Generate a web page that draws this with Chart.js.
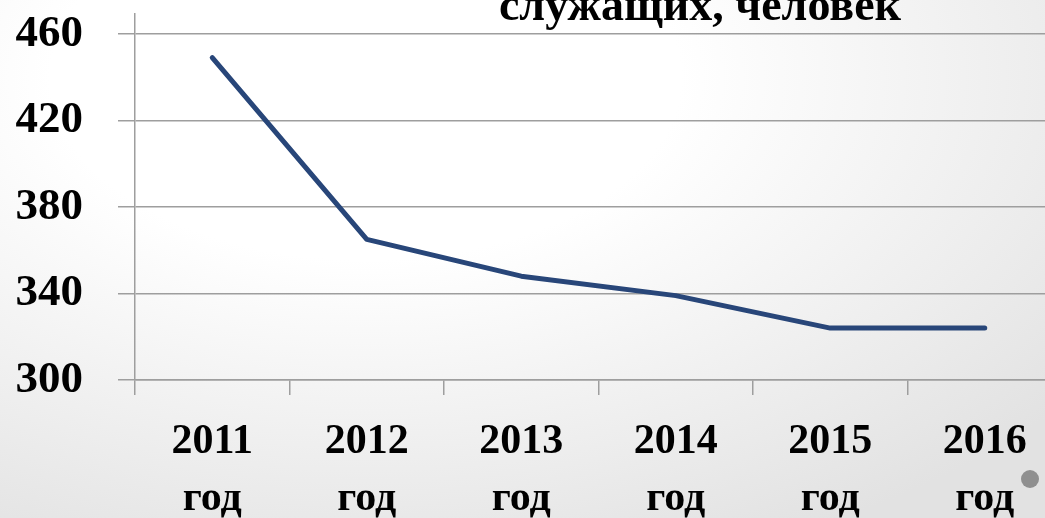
<!DOCTYPE html>
<html>
<head>
<meta charset="utf-8">
<script src="https://cdn.jsdelivr.net/npm/chart.js@4"></script>
<style>
  html, body { margin: 0; padding: 0; overflow: hidden; }
  body {
    width: 1045px; height: 518px; position: relative;
    background: radial-gradient(ellipse 900px 520px at 35% 15%, #ffffff 35%, #e2e2e2 100%);
  }
  #wrap { position: absolute; left: 0; top: -30px; width: 1070px; height: 548px; }
  #dot { position: absolute; left: 1021px; top: 470px; width: 18px; height: 18px; border-radius: 50%; background: #8f8f8f; }
</style>
</head>
<body>
<div id="wrap"><canvas id="chart"></canvas></div>
<div id="dot"></div>
<script>
const years = ["2011", "2012", "2013", "2014", "2015", "2016"];
const employees = [449, 365, 348, 339, 324, 324];
const yTicks = [300, 340, 380, 420, 460];
const titleLine = "служащих, человек";

const serif = "'Liberation Serif', 'DejaVu Serif', serif";
const gridGray = "#9e9e9e";

// title sits partly above the visible area, so draw it by hand
const titlePlugin = {
  id: "cutTitle",
  afterDraw(chart) {
    const ctx = chart.ctx;
    ctx.save();
    ctx.font = "bold 46px " + serif;
    ctx.fillStyle = "#000";
    ctx.textAlign = "center";
    ctx.textBaseline = "alphabetic";
    ctx.fillText(titleLine, 700, 50);
    ctx.restore();
  }
};

new Chart(document.getElementById("chart"), {
  type: "line",
  data: {
    labels: years.map(y => [y, "год"]),
    datasets: [{
      data: employees,
      borderColor: "#284679",
      borderWidth: 5,
      borderCapStyle: "round",
      borderJoinStyle: "round",
      pointRadius: 0,
      tension: 0
    }]
  },
  options: {
    responsive: true,
    maintainAspectRatio: false,
    animation: false,
    layout: { padding: { top: 13, right: 8, left: 0, bottom: 0 } },
    plugins: { legend: { display: false }, tooltip: { enabled: false } },
    scales: {
      x: {
        offset: true,
        grid: { offset: true, drawOnChartArea: false, tickLength: 15, color: gridGray, lineWidth: 1.5 },
        border: { color: gridGray, width: 1.5 },
        ticks: {
          color: "#000", padding: 19, maxRotation: 0, autoSkip: false,
          font: { family: serif, size: 42, weight: "bold", lineHeight: 1.35 }
        },
        afterFit(scale) { scale.height = 138; }
      },
      y: {
        min: 300,
        max: 469.2,
        afterBuildTicks(scale) { scale.ticks = yTicks.map(v => ({ value: v })); },
        grid: { tickLength: 17, color: gridGray, lineWidth: 1.5 },
        border: { color: gridGray, width: 1.5 },
        ticks: {
          color: "#000", padding: 35,
          font: { family: serif, size: 45, weight: "bold", lineHeight: 0.4 }
        },
        afterFit(scale) { scale.width = 135; }
      }
    }
  },
  plugins: [titlePlugin]
});
</script>
</body>
</html>
